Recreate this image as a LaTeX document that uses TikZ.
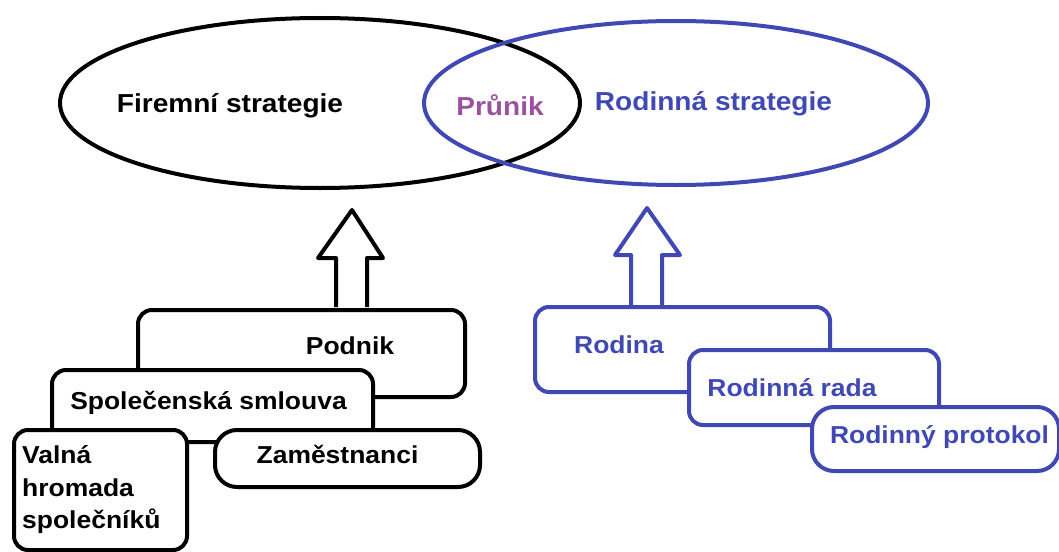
\documentclass[tikz,border=0pt]{standalone}
\usepackage{fontspec}
\setmainfont{Liberation Sans}[FakeStretch=1.08]
\usetikzlibrary{shapes.geometric}
\definecolor{famblue}{RGB}{64,72,180}
\definecolor{prunikc}{RGB}{155,80,160}
\begin{document}
\begin{tikzpicture}[x=1pt,y=-1pt,
  box/.style={draw, line width=4pt, rounded corners=14pt, fill=white, anchor=north west, inner sep=0pt},
  ovalbox/.style={box, rounded corners=22pt},
  lbl/.style={font=\fontsize{24.5}{32.5}\selectfont\bfseries, anchor=base, inner sep=0pt},
  biglbl/.style={font=\fontsize{26}{30}\selectfont\bfseries, anchor=base, inner sep=0pt},
  ell/.style={ellipse, draw, line width=4pt, inner sep=0pt},
  blockarrow/.style={draw, line width=4pt, fill=white, line join=round}
]
\useasboundingbox (0,0) rectangle (1059,551);

% ellipses
\node[ell, minimum width=520pt, minimum height=170pt] (firm) at (320,103) {};
\node[ell, draw=famblue, minimum width=504pt, minimum height=164pt] (fam) at (676,103) {};
\node[biglbl] (firmtxt) at (230,112) {Firemní strategie};
\node[biglbl, text=prunikc] (prunik) at (500,115) {Průnik};
\node[biglbl, text=famblue] (famtxt) at (713.5,110) {Rodinná strategie};

% block arrows
\draw[blockarrow] (336,307) -- (336,258) -- (318,258) -- (352,210) -- (383,258) -- (367,258) -- (367,307);
\draw[blockarrow, draw=famblue] (631,305) -- (631,255) -- (615,255) -- (647,208) -- (680,255) -- (662,255) -- (662,305);

% left boxes
\node[box, minimum width=327pt, minimum height=87pt] (podnik) at (136,308) {};
\node[box, minimum width=321pt, minimum height=72pt] (smlouva) at (50,368) {};
\node[box, minimum width=173pt, minimum height=120pt] (valna) at (12,428) {};
\node[ovalbox, minimum width=265pt, minimum height=57pt] (zam) at (213,428) {};
\node[lbl] (podniktxt) at (350,354) {Podnik};
\node[lbl] (smlouvatxt) at (208.5,409) {Společenská smlouva};
\node[lbl, anchor=base west] (valna1) at (22,463) {Valná};
\node[lbl, anchor=base west] (valna2) at (22,496) {hromada};
\node[lbl, anchor=base west] (valna3) at (22,528) {společníků};
\node[lbl] (zamtxt) at (337.5,463) {Zaměstnanci};

% right boxes
\node[box, draw=famblue, minimum width=295pt, minimum height=85pt] (rodina) at (533,305) {};
\node[box, draw=famblue, minimum width=250pt, minimum height=75pt] (rada) at (687,348) {};
\node[ovalbox, draw=famblue, minimum width=247pt, minimum height=64pt] (protokol) at (810,405) {};
\node[lbl, text=famblue] (rodinatxt) at (619,353) {Rodina};
\node[lbl, text=famblue] (radatxt) at (792,396) {Rodinná rada};
\node[lbl, text=famblue] (protokoltxt) at (939.5,443) {Rodinný protokol};
\end{tikzpicture}
\end{document}
